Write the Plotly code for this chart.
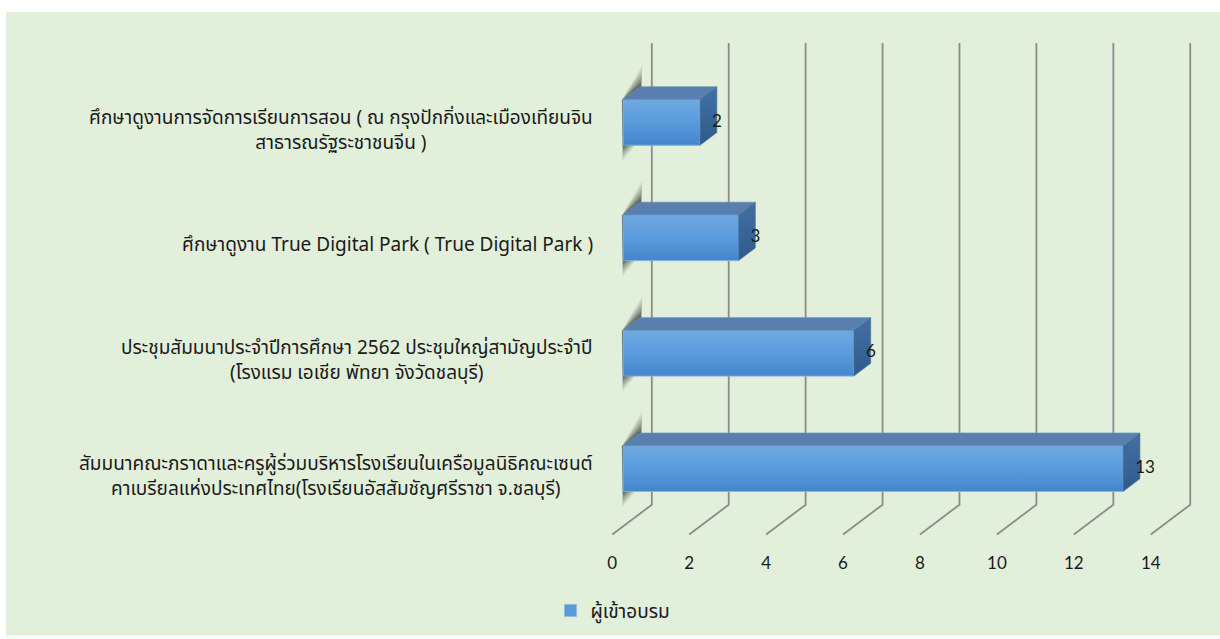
import plotly.graph_objects as go

# ---- data ----
categories = [
    "ศึกษาดูงานการจัดการเรียนการสอน ( ณ กรุงปักกิ่งและเมืองเทียนจิน<br>สาธารณรัฐระชาชนจีน )",
    "ศึกษาดูงาน True Digital Park ( True Digital Park )",
    "ประชุมสัมมนาประจำปีการศึกษา 2562 ประชุมใหญ่สามัญประจำปี<br>(โรงแรม เอเชีย พัทยา จังวัดชลบุรี)",
    "สัมมนาคณะภราดาและครูผู้ร่วมบริหารโรงเรียนในเครือมูลนิธิคณะเซนต์<br>คาเบรียลแห่งประเทศไทย(โรงเรียนอัสสัมชัญศรีราชา จ.ชลบุรี)",
]
values = [2, 3, 6, 13]
series_name = "ผู้เข้าอบรม"
x_ticks = [0, 2, 4, 6, 8, 10, 12, 14]

# ---- 3-D look: pixel geometry of the pseudo-perspective ----
W, H = 1220, 639
M_L, M_R, M_T, M_B = 600, 10, 30, 99
PX_PER_X = 38.46          # pixels per value unit
PX_PER_CAT = 116.1        # pixels per category step
DEPTH_DX, DEPTH_DY = 39.5, 30.0   # full floor depth offset (px)
Z_FRONT, Z_BACK = 0.275, 0.70      # bar depth inside the floor
HALF_H = 0.198            # half bar thickness (category units)

x0_px = 612.3             # pixel of value 0 on front plane
plot_w = W - M_L - M_R
plot_h = H - M_T - M_B
x_range = [(M_L - x0_px) / PX_PER_X, (M_L + plot_w - x0_px) / PX_PER_X]
y_bottom_px = 537.5       # pixel of category -0.5 on front plane
y_range = [-0.5 - (H - M_B - y_bottom_px) / PX_PER_CAT,
           -0.5 + (y_bottom_px - M_T) / PX_PER_CAT]


def proj(v, c, z):
    """Map a (value, category, depth) point to front-plane data coords."""
    return v + z * DEPTH_DX / PX_PER_X, c + z * DEPTH_DY / PX_PER_CAT


def poly(pts):
    xs = [p[0] for p in pts] + [pts[0][0]]
    ys = [p[1] for p in pts] + [pts[0][1]]
    return xs, ys


n = len(categories)
ypos = [n - 1 - i for i in range(n)]

fig = go.Figure()

# back wall + floor grid lines
wall_top = proj(0, 3.5, 1.0)[1]
for t in x_ticks:
    bx, by = proj(t, -0.5, 1.0)
    fx, fy = proj(t, -0.5, 0.0)
    fig.add_trace(go.Scatter(
        x=[bx, bx, fx], y=[wall_top, by, fy], mode="lines",
        line=dict(color="#8c8c8c", width=1.8),
        hoverinfo="skip", showlegend=False))

# soft shadow at the left end of every bar (layered for a blurred edge)
for c in ypos:
    for k, a in [(0.15, 0.09), (0.12, 0.12), (0.09, 0.15), (0.06, 0.19),
                 (0.035, 0.24), (0.01, 0.3)]:
        xs, ys = poly([
            proj(-k * 0.12, c - HALF_H - k * 0.9, Z_FRONT),
            proj(-k * 0.12, c + HALF_H, Z_FRONT - 0.02),
            proj(k * 0.25, c + HALF_H + k * 1.2, Z_BACK + 0.02),
            proj(k * 0.25, c - HALF_H - k * 0.3, Z_BACK),
        ])
        fig.add_trace(go.Scatter(
            x=xs, y=ys, fill="toself", mode="lines", line=dict(width=0),
            fillcolor=f"rgba(28,32,28,{a})",
            hoverinfo="skip", showlegend=False))

# front faces as bars
front_y = [proj(0, c, Z_FRONT)[1] for c in ypos]
base_x = proj(0, 0, Z_FRONT)[0]
fig.add_trace(go.Bar(
    name=series_name, orientation="h",
    x=values, y=front_y, base=base_x, width=2 * HALF_H,
    marker=dict(color="#5b9bd5", line=dict(color="#8fb9e3", width=0.8)),
    hoverinfo="skip", showlegend=True))

for v, c in zip(values, ypos):
    # gradient on the front face
    xs, ys = poly([proj(0, c - HALF_H, Z_FRONT), proj(v, c - HALF_H, Z_FRONT),
                   proj(v, c + HALF_H, Z_FRONT), proj(0, c + HALF_H, Z_FRONT)])
    fig.add_trace(go.Scatter(
        x=xs, y=ys, fill="toself", mode="lines",
        line=dict(color="#8fb9e3", width=0.8),
        fillgradient=dict(type="vertical",
                          colorscale=[[0, "#4585cb"], [0.5, "#5a9bdc"], [1, "#6fa9e2"]]),
        hoverinfo="skip", showlegend=False))
    # top face
    xs, ys = poly([proj(0, c + HALF_H, Z_FRONT), proj(v, c + HALF_H, Z_FRONT),
                   proj(v, c + HALF_H, Z_BACK), proj(0, c + HALF_H, Z_BACK)])
    fig.add_trace(go.Scatter(
        x=xs, y=ys, fill="toself", mode="lines",
        line=dict(color="#6b8fbd", width=0.8), fillcolor="#587fae",
        hoverinfo="skip", showlegend=False))
    # right side face
    xs, ys = poly([proj(v, c - HALF_H, Z_FRONT), proj(v, c + HALF_H, Z_FRONT),
                   proj(v, c + HALF_H, Z_BACK), proj(v, c - HALF_H, Z_BACK)])
    fig.add_trace(go.Scatter(
        x=xs, y=ys, fill="toself", mode="lines",
        line=dict(color="#4a74a6", width=0.6),
        fillgradient=dict(type="vertical",
                          colorscale=[[0, "#2f5b8c"], [1, "#436fa2"]]),
        hoverinfo="skip", showlegend=False))

# value labels
num_font = "Lato, Carlito, Calibri, sans-serif"
lab_x = [proj(v, 0, Z_FRONT)[0] + 12 / PX_PER_X for v in values]
lab_y = [proj(0, c, Z_FRONT)[1] for c in ypos]
fig.add_trace(go.Scatter(
    x=lab_x, y=lab_y, mode="text", text=[str(v) for v in values],
    textposition="middle right",
    textfont=dict(family=num_font, size=17, color="#1a1a1a"),
    hoverinfo="skip", showlegend=False))

# category labels (right-bounded, lines centred)
thai_font = "Noto Sans Thai, Noto Sans Thai Looped, Tahoma, Noto Sans, sans-serif"
for lbl, c in zip(categories, ypos):
    fig.add_annotation(
        text=lbl, xref="paper", yref="y", x=(595 - M_L) / plot_w, y=c,
        xanchor="right", yanchor="middle", align="center", showarrow=False,
        font=dict(family=thai_font, size=19, color="#1a1a1a"))

# green chart area
fig.add_shape(type="rect", xref="paper", yref="paper", layer="below",
              x0=(6 - M_L) / plot_w, x1=(W - M_L) / plot_w,
              y0=(H - M_B - H) / plot_h, y1=(H - M_B - 12) / plot_h,
              fillcolor="#e2efda", line=dict(width=0))

fig.update_layout(
    width=W, height=H,
    margin=dict(l=M_L, r=M_R, t=M_T, b=M_B, pad=0),
    paper_bgcolor="white", plot_bgcolor="rgba(0,0,0,0)",
    barmode="overlay",
    xaxis=dict(range=x_range, tickvals=x_ticks, showgrid=False, zeroline=False,
               showline=False, ticks="", ticklabelstandoff=14,
               tickfont=dict(family=num_font, size=17, color="#1a1a1a"),
               fixedrange=True),
    yaxis=dict(range=y_range, showgrid=False, zeroline=False, showline=False,
               showticklabels=False, ticks="", fixedrange=True),
    legend=dict(orientation="h", x=(613 - M_L) / plot_w, xanchor="center",
                y=(H - M_B - 614) / plot_h, yanchor="middle",
                bgcolor="rgba(0,0,0,0)", itemwidth=30,
                font=dict(family=thai_font, size=19, color="#1a1a1a")),
    showlegend=True,
)

fig.write_html("out.html")
